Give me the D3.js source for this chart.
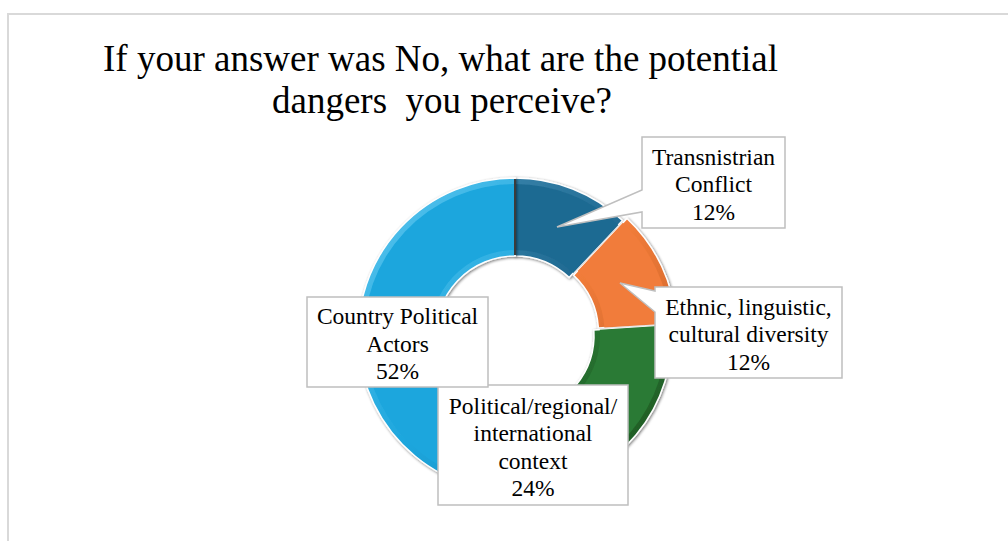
<!DOCTYPE html>
<html>
<head>
<meta charset="utf-8">
<script src="https://cdn.jsdelivr.net/npm/d3@7"></script>
<style>
  html, body { margin: 0; padding: 0; background: #ffffff; }
  svg { display: block; }
  text { font-family: "Liberation Serif", "Times New Roman", serif; fill: #000; }
</style>
</head>
<body>
<svg id="chart" width="1008" height="541"></svg>
<script>
// Survey answers: perceived dangers (share of respondents, %)
const categories = [
  "Transnistrian Conflict",
  "Ethnic, linguistic, cultural diversity",
  "Political/regional/ international context",
  "Country Political Actors"
];
const shares = [12, 12, 24, 52];
const labelLines = [
  ["Transnistrian", "Conflict"],
  ["Ethnic, linguistic,", "cultural diversity"],
  ["Political/regional/", "international", "context"],
  ["Country Political", "Actors"]
];
const titleLines = ["If your answer was No, what are the potential", "dangers  you perceive?"];

// Slice styling
const baseColors = ["#1f6a92", "#f17c3a", "#2a7a34", "#1ca6dd"];
const lightColors = ["#4a94bb", "#f9a46e", "#4ea35a", "#5cc6ef"];
const darkColors  = ["#134b6a", "#b9571f", "#1b5522", "#127fae"];

// Data-label callout boxes: [x, y, w, h], optional pointer tip and wedge span on the left edge
const boxes = [
  { x: 642, y: 137, w: 143, h: 91, tip: [557, 227], wedge: [190, 212] },
  { x: 655, y: 287, w: 187, h: 91, tip: [620, 283], wedge: [291, 312] },
  { x: 438, y: 385, w: 190, h: 120 },
  { x: 307, y: 297, w: 181, h: 90 }
];

const svg = d3.select("#chart");
const W = 1008, H = 541;

// Chart area frame
svg.append("rect")
  .attr("x", 8).attr("y", 14)
  .attr("width", W + 10).attr("height", H + 10)
  .attr("fill", "#fff")
  .attr("stroke", "#d9d9d9").attr("stroke-width", 2);

// Title
svg.append("g").selectAll("text")
  .data(titleLines)
  .join("text")
  .attr("x", (d, i) => i === 0 ? 103 : 272)
  .attr("y", (d, i) => 71 + i * 42)
  .attr("font-size", 37)
  .style("white-space", "pre")
  .attr("xml:space", "preserve")
  .text(d => d);

// Donut
const cx = 515, cy = 335, R = 157, r = 79;
const pie = d3.pie().sort(null).value(d => d);
const arcs = pie(shares);
const arc = d3.arc().innerRadius(r).outerRadius(R);
const inset = 6;
const innerArc = d3.arc().innerRadius(r + inset).outerRadius(R - inset);

const defs = svg.append("defs");
const shadow = defs.append("filter").attr("id", "ringShadow")
  .attr("x", "-20%").attr("y", "-20%").attr("width", "140%").attr("height", "140%");
shadow.append("feGaussianBlur").attr("in", "SourceAlpha").attr("stdDeviation", 1.6).attr("result", "b");
shadow.append("feOffset").attr("in", "b").attr("dx", 0.8).attr("dy", 1.2).attr("result", "o");
shadow.append("feComponentTransfer").attr("in", "o").attr("result", "s")
  .append("feFuncA").attr("type", "linear").attr("slope", 0.55);
const merge = shadow.append("feMerge");
merge.append("feMergeNode").attr("in", "s");
merge.append("feMergeNode").attr("in", "SourceGraphic");

arcs.forEach((a, i) => {
  const g = defs.append("linearGradient").attr("id", "bevel" + i)
    .attr("gradientUnits", "userSpaceOnUse")
    .attr("x1", -R).attr("y1", -R).attr("x2", R).attr("y2", R);
  g.append("stop").attr("offset", "0%").attr("stop-color", lightColors[i]);
  g.append("stop").attr("offset", "50%").attr("stop-color", baseColors[i]);
  g.append("stop").attr("offset", "100%").attr("stop-color", darkColors[i]);
});

const ring = svg.append("g").attr("transform", `translate(${cx},${cy})`);
const slices = ring.selectAll("g.slice")
  .data(arcs)
  .join("g")
  .attr("class", "slice")
  .attr("filter", "url(#ringShadow)")
  .attr("transform", (d, i) => {
    // the "Ethnic" slice is pulled slightly out of the ring
    if (i !== 1) return null;
    const m = (d.startAngle + d.endAngle) / 2, off = 5;
    return `translate(${Math.sin(m) * off},${-Math.cos(m) * off})`;
  });

slices.append("path")
  .attr("d", arc)
  .attr("fill", (d, i) => `url(#bevel${i})`)
  .attr("stroke", "#ffffff").attr("stroke-width", 1.5);
slices.append("path")
  .attr("d", innerArc)
  .attr("fill", (d, i) => baseColors[i]);

// dark seam where the ring closes at 12 o'clock
ring.append("line")
  .attr("x1", 0).attr("y1", -R + 1).attr("x2", 0).attr("y2", -r - 1)
  .attr("stroke", "#3b3b3b").attr("stroke-width", 2);

// Data labels
const lineH = 27.5;
const labels = svg.append("g");
boxes.forEach((b, i) => {
  let p;
  if (b.tip) {
    p = `M${b.x},${b.y} H${b.x + b.w} V${b.y + b.h} H${b.x} V${b.wedge[1]} L${b.tip[0]},${b.tip[1]} L${b.x},${b.wedge[0]} Z`;
  } else {
    p = `M${b.x},${b.y} H${b.x + b.w} V${b.y + b.h} H${b.x} Z`;
  }
  labels.append("path")
    .attr("d", p)
    .attr("fill", "#ffffff")
    .attr("stroke", "#bfbfbf").attr("stroke-width", 1.5)
    .attr("stroke-linejoin", "miter");

  const lines = labelLines[i].concat([shares[i] + "%"]);
  const top = b.y + b.h / 2 - (lines.length * lineH) / 2;
  labels.append("text")
    .attr("text-anchor", "middle")
    .attr("font-size", 23.5)
    .selectAll("tspan")
    .data(lines)
    .join("tspan")
    .attr("x", b.x + b.w / 2)
    .attr("y", (d, k) => top + k * lineH + 23.5)
    .text(d => d);
});
</script>
</body>
</html>
